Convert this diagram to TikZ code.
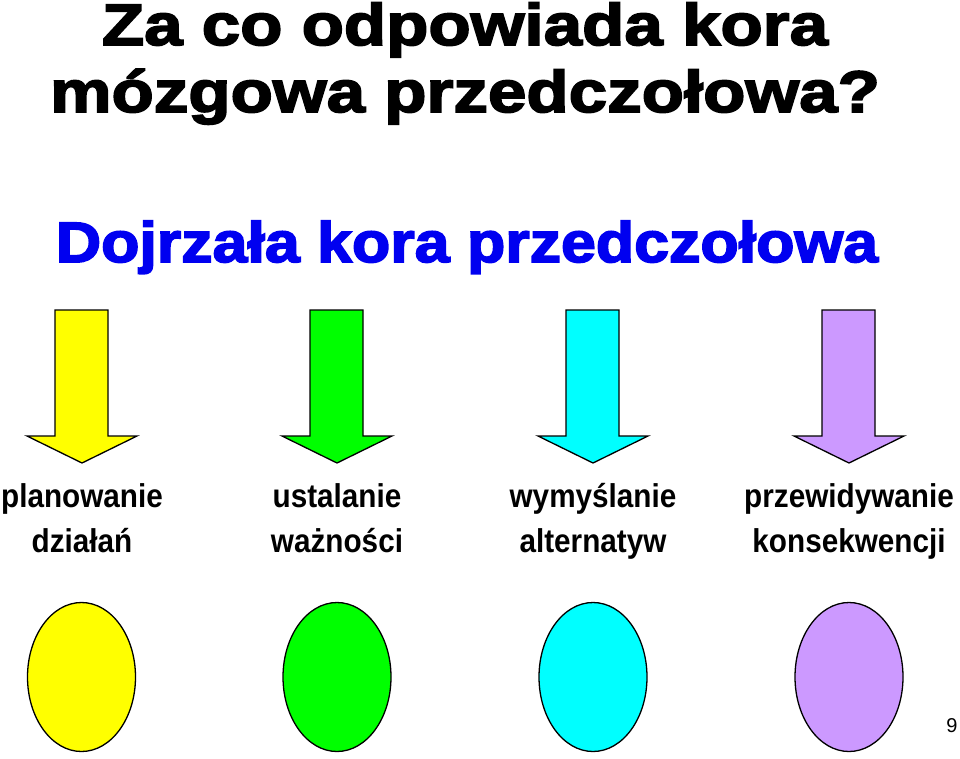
\documentclass[tikz,border=0pt]{standalone}
\usepackage{fontspec}
\setmainfont{Liberation Sans}
\newfontfamily\heavyfont{Liberation Sans}[BoldFeatures={FakeBold=3,FakeStretch=1.18}]
\newfontfamily\bluefont{Liberation Sans}[BoldFeatures={FakeBold=3,FakeStretch=1.1}]
\newfontfamily\narrowfont{Liberation Sans}[BoldFeatures={FakeStretch=0.9}]
\usetikzlibrary{positioning,shapes.geometric}

\definecolor{zolty}{HTML}{FFFF00}
\definecolor{zielony}{HTML}{00FF00}
\definecolor{turkus}{HTML}{00FFFF}
\definecolor{fiolet}{HTML}{CC99FF}
\definecolor{niebieski}{HTML}{0000F0}

\begin{document}
\begin{tikzpicture}[x=1pt,y=-1pt,
	tytul/.style={align=center, anchor=base, text=black,
		font=\heavyfont\bfseries\fontsize{58.6}{67}\selectfont},
	podtytul/.style={anchor=base, text=niebieski,
		font=\bluefont\bfseries\fontsize{57}{60}\selectfont},
	strzalka/.style={draw=black, line width=1.3pt, line join=miter},
	napis/.style={align=center, anchor=base, text=black,
		font=\narrowfont\bfseries\fontsize{33}{45}\selectfont},
	owal/.style={ellipse, draw=black, line width=1.3pt,
		minimum width=108pt, minimum height=149pt, inner sep=0pt}
	]
	\useasboundingbox (0,0) rectangle (960,758);
	\node (t) [tytul] at (465,112) {Za co odpowiada kora\\mózgowa przedczołowa?};
	\node (d) [podtytul] at (467,262) {Dojrzała kora przedczołowa};
	% strzalki
	\draw[strzalka, fill=zolty] (55,310) -- (108,310) -- (108,436) -- (137,436)
		-- (82,463) -- (27,436) -- (55,436) -- cycle;
	\draw[strzalka, fill=zielony, xshift=255pt] (55,310) -- (108,310) -- (108,436) -- (137,436)
		-- (82,463) -- (27,436) -- (55,436) -- cycle;
	\draw[strzalka, fill=turkus, xshift=511pt] (55,310) -- (108,310) -- (108,436) -- (137,436)
		-- (82,463) -- (27,436) -- (55,436) -- cycle;
	\draw[strzalka, fill=fiolet, xshift=767pt] (55,310) -- (108,310) -- (108,436) -- (137,436)
		-- (82,463) -- (27,436) -- (55,436) -- cycle;
	% napisy
	\node (n1) [napis] at (82,552) {planowanie\\działań};
	\node (n2) [napis] at (337,552) {ustalanie\\ważności};
	\node (n3) [napis] at (593,552) {wymyślanie\\alternatyw};
	\node (n4) [napis] at (849,552) {przewidywanie\\konsekwencji};
	% owale
	\node (o1) [owal, fill=zolty] at (81.5,677) {};
	\node (o2) [owal, fill=zielony] at (337,677) {};
	\node (o3) [owal, fill=turkus] at (593,677) {};
	\node (o4) [owal, fill=fiolet] at (849,677) {};
	\node (s) [font=\fontsize{20}{22}\selectfont, anchor=base] at (952,732) {9};
\end{tikzpicture}
\end{document}
